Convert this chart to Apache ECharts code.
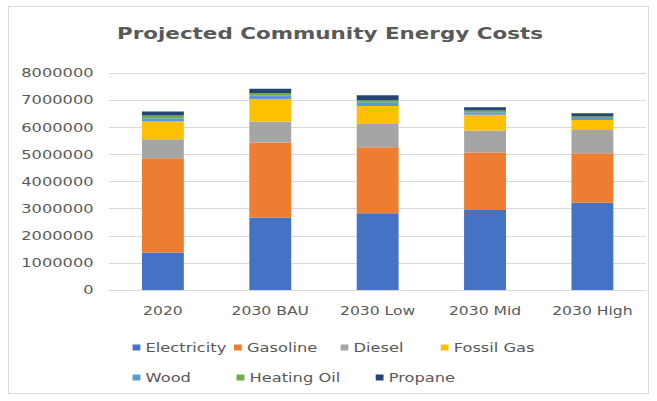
<!DOCTYPE html>
<html>
<head>
<meta charset="utf-8">
<script src="https://cdn.jsdelivr.net/npm/echarts@6/dist/echarts.min.js"></script>
<style>
  html, body { margin: 0; padding: 0; background: #ffffff; overflow: hidden; }
  #frame {
    position: absolute; left: 8px; top: 6px; width: 641px; height: 388px;
    border: 1px solid #d9d9d9; box-sizing: border-box; pointer-events: none;
  }
  #chart {
    position: absolute; left: 0; top: 0;
    width: 505px; height: 401px;
    transform: scaleX(1.3); transform-origin: 0 0;
  }
</style>
</head>
<body>
<div id="chart"></div>
<div id="frame"></div>
<script>
// Scenario categories
const categories = ['2020', '2030 BAU', '2030 Low', '2030 Mid', '2030 High'];

// Annual cost by fuel type for each scenario
const electricity = [1380000, 2670000, 2830000, 2950000, 3220000];
const gasoline    = [3480000, 2770000, 2430000, 2120000, 1820000];
const diesel      = [700000, 770000, 860000, 810000, 860000];
const fossilGas   = [650000, 830000, 660000, 580000, 370000];
const wood        = [120000, 120000, 140000, 90000, 70000];
const heatingOil  = [100000, 100000, 80000, 70000, 60000];
const propane     = [150000, 160000, 180000, 120000, 120000];

// Value axis ticks
const yMin = 0, yMax = 8000000, yStep = 1000000;

const seriesDefs = [
  { name: 'Electricity', data: electricity, color: '#4472C4' },
  { name: 'Gasoline',    data: gasoline,    color: '#ED7D31' },
  { name: 'Diesel',      data: diesel,      color: '#A5A5A5' },
  { name: 'Fossil Gas',  data: fossilGas,   color: '#FFC000' },
  { name: 'Wood',        data: wood,        color: '#5B9BD5' },
  { name: 'Heating Oil', data: heatingOil,  color: '#70AD47' },
  { name: 'Propane',     data: propane,     color: '#264478' }
];

const FONT = 'DejaVu Sans';
const TEXT = '#595959';

// Legend item placement (two rows, like the spreadsheet layout)
const legendSpots = [
  { name: 'Electricity', left: 102, top: 341 },
  { name: 'Gasoline',    left: 180, top: 341 },
  { name: 'Diesel',      left: 262, top: 341 },
  { name: 'Fossil Gas',  left: 339, top: 341 },
  { name: 'Wood',        left: 102, top: 371 },
  { name: 'Heating Oil', left: 182, top: 371 },
  { name: 'Propane',     left: 289, top: 371 }
];

const chart = echarts.init(document.getElementById('chart'), null, { renderer: 'svg' });

chart.setOption({
  animation: false,
  backgroundColor: 'transparent',
  title: {
    text: 'Projected Community Energy Costs',
    left: 90,
    top: 25,
    padding: 0,
    textStyle: { fontFamily: FONT, fontSize: 16.5, fontWeight: 'bold', color: TEXT }
  },
  legend: legendSpots.map(s => ({
    data: [s.name],
    left: s.left,
    top: s.top,
    padding: 0,
    itemWidth: 6,
    itemHeight: 6,
    itemGap: 0,
    icon: 'rect',
    textStyle: { fontFamily: FONT, fontSize: 12.5, color: TEXT, padding: [0, 0, 0, -1] }
  })),
  grid: { left: 84, right: 8, top: 73, bottom: 111, containLabel: false },
  xAxis: {
    type: 'category',
    data: categories,
    axisLine: { lineStyle: { color: '#d9d9d9', width: 1 } },
    axisTick: { show: false },
    axisLabel: { fontFamily: FONT, fontSize: 12, color: TEXT, margin: 15 }
  },
  yAxis: {
    type: 'value',
    min: yMin,
    max: yMax,
    interval: yStep,
    axisLine: { show: false },
    axisTick: { show: false },
    splitLine: { lineStyle: { color: '#d9d9d9', width: 1 } },
    axisLabel: {
      fontFamily: FONT, fontSize: 12.5, color: TEXT, margin: 12,
      formatter: v => String(v)
    }
  },
  series: seriesDefs.map(s => ({
    name: s.name,
    type: 'bar',
    stack: 'total',
    data: s.data,
    barWidth: '39%',
    itemStyle: { color: s.color },
    emphasis: { disabled: true }
  }))
});
</script>
</body>
</html>
